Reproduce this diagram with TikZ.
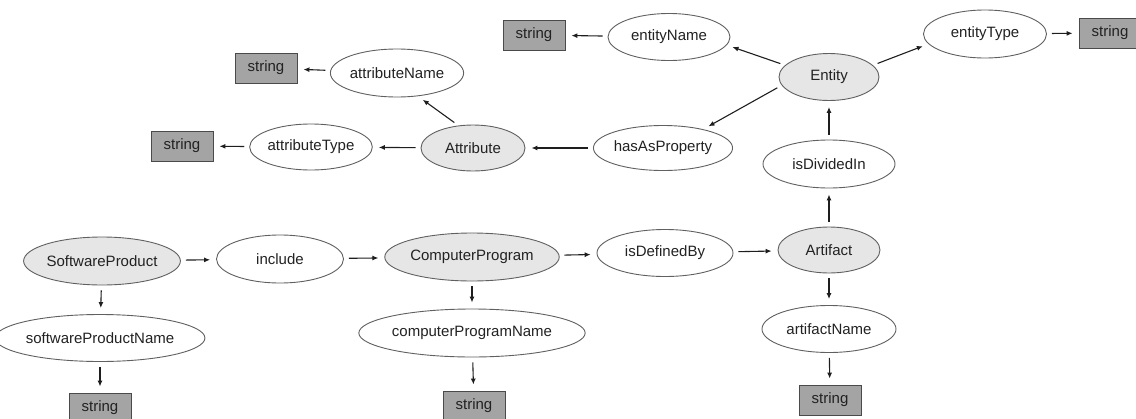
\documentclass[tikz,border=0pt]{standalone}
\usepackage{fontspec}
\setmainfont{Liberation Sans}
\usetikzlibrary{shapes.geometric,arrows.meta}
\definecolor{clsfill}{HTML}{E6E6E6}
\definecolor{boxfill}{HTML}{A4A4A4}
\definecolor{edgegray}{HTML}{606060}
\definecolor{boxedge}{HTML}{4A4A4A}
\definecolor{linecol}{HTML}{1E1E1E}
\definecolor{txtcol}{HTML}{222222}
\tikzset{
  prop/.style={ellipse, draw=edgegray, line width=0.9pt, fill=white, inner sep=0pt,
    font=\fontsize{15}{18}\selectfont, text=txtcol},
  cls/.style={prop, fill=clsfill},
  strbox/.style={rectangle, draw=boxedge, line width=0.9pt, fill=boxfill, inner sep=0pt,
    minimum width=62pt, minimum height=30pt, font=\fontsize{15}{18}\selectfont, text=txtcol},
  arr/.style={draw=linecol, line width=1.1pt, -{Latex[length=6pt,width=5pt]},
    shorten >=6pt, shorten <=5pt}
}
\begin{document}
\begin{tikzpicture}[x=1pt,y=-1pt]
\useasboundingbox (0,0) rectangle (1136,418);
\begin{scope}
\clip (0,0) rectangle (1136,418);
% top right
\node[strbox] (sEN) at (534,35) {string};
\node[prop, minimum width=122pt, minimum height=47pt] (entityName) at (669,37) {entityName};
\node[cls, minimum width=100pt, minimum height=47pt] (Entity) at (829,77) {Entity};
\node[prop, minimum width=123pt, minimum height=48pt] (entityType) at (985,34) {entityType};
\node[strbox] (sET) at (1110,33) {string};
\node[prop, minimum width=132pt, minimum height=48pt] (isDividedIn) at (829,164) {isDividedIn};
% attribute part
\node[prop, minimum width=126pt, minimum height=45pt] (hasAsProperty) at (663,148) {hasAsProperty};
\node[cls, minimum width=104pt, minimum height=46pt] (Attribute) at (473,148) {Attribute};
\node[prop, minimum width=123pt, minimum height=48pt] (attributeName) at (397,73) {attributeName};
\node[strbox] (sAN) at (266,68) {string};
\node[prop, minimum width=122pt, minimum height=46pt] (attributeType) at (311,147) {attributeType};
\node[strbox] (sAT) at (182,146) {string};
% bottom row
\node[cls, minimum width=133pt, minimum height=48pt] (SoftwareProduct) at (102,261) {SoftwareProduct};
\node[prop, minimum width=127pt, minimum height=48pt] (include) at (280,259) {include};
\node[cls, minimum width=164pt, minimum height=48pt] (ComputerProgram) at (472,257) {ComputerProgram};
\node[prop, minimum width=136pt, minimum height=47pt] (isDefinedBy) at (665,253) {isDefinedBy};
\node[cls, minimum width=102pt, minimum height=46pt] (Artifact) at (829,250) {Artifact};
\node[prop, minimum width=185pt, minimum height=47pt] (softwareProductName) at (100,338) {softwareProductName};
\node[strbox] (sSP) at (100,408) {string};
\node[prop, minimum width=185pt, minimum height=48pt] (computerProgramName) at (472,333) {computerProgramName};
\node[strbox] (sCP) at (474,406) {string};
\node[prop, minimum width=134pt, minimum height=47pt] (artifactName) at (829,329) {artifactName};
\node[strbox] (sAF) at (830,400) {string};
\end{scope}
% connectors
\draw[arr] (entityName) -- (sEN);
\draw[arr] (Entity.165) -- (entityName.-8);
\draw[arr] (Entity.15) -- (entityType.190);
\draw[arr] (entityType) -- (sET);
\draw[arr] (Entity.190) -- (hasAsProperty.25);
\draw[arr] (hasAsProperty) -- (Attribute);
\draw[arr] (Attribute.123) -- (attributeName.-48);
\draw[arr] (Attribute) -- (attributeType);
\draw[arr] (attributeName) -- (sAN);
\draw[arr] (attributeType) -- (sAT);
\draw[arr] (isDividedIn) -- (Entity);
\draw[arr] (Artifact) -- (isDividedIn);
\draw[arr] (Artifact) -- (artifactName);
\draw[arr] (artifactName) -- (sAF);
\draw[arr] (SoftwareProduct) -- (include);
\draw[arr] (include) -- (ComputerProgram);
\draw[arr] (ComputerProgram) -- (isDefinedBy);
\draw[arr] (isDefinedBy) -- (Artifact);
\draw[arr] (SoftwareProduct) -- (softwareProductName);
\draw[arr] (softwareProductName.south) -- (sSP.north);
\draw[arr] (ComputerProgram) -- (computerProgramName);
\draw[arr] (computerProgramName) -- (sCP);
\end{tikzpicture}
\end{document}
